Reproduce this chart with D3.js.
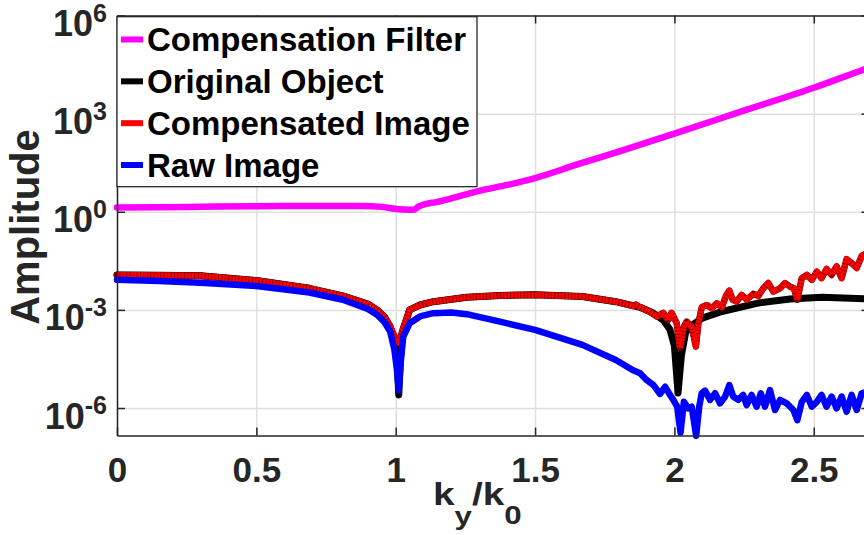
<!DOCTYPE html>
<html>
<head>
<meta charset="utf-8">
<script src="https://cdn.jsdelivr.net/npm/d3@7"></script>
<style>
  html, body { margin: 0; padding: 0; background: #fff; overflow: hidden; }
  svg { display: block; font-family: "Liberation Sans", Arial, Helvetica, sans-serif; font-weight: bold; }
</style>
</head>
<body>
<svg id="chart" width="864" height="535"></svg>
<script>
// Normalised spatial frequency k_y / k_0
const xTicks = [0, 0.5, 1, 1.5, 2, 2.5];
const xTickLabels = ["0", "0.5", "1", "1.5", "2", "2.5"];
const yTicks = [1e-6, 1e-3, 1e0, 1e3, 1e6];
const yTickExponents = ["-6", "-3", "0", "3", "6"];

const seriesNames = ["Compensation Filter", "Original Object", "Compensated Image", "Raw Image"];
const seriesColors = ["#ff00ff", "#000000", "#ff0000", "#0000ff"];

// Compensation filter
const filterK = [0, 0.25, 0.5, 0.75, 0.88, 0.95, 0.99, 1.03, 1.065, 1.08, 1.10, 1.15, 1.2, 1.3, 1.4, 1.5, 1.66, 1.8, 2.0, 2.26, 2.5, 2.68, 2.7];
const filterAmp = [1.35, 1.41, 1.48, 1.51, 1.51, 1.41, 1.26, 1.17, 1.15, 1.41, 1.66, 2.0, 2.57, 4.37, 6.61, 10.7, 29.5, 69, 245, 1318, 6166, 22400, 25700];

// Original object spectrum
const objectK = [0, 0.15, 0.3, 0.5, 0.69, 0.81, 0.9, 0.933, 0.96, 0.98, 0.995, 1.005, 1.011, 1.017, 1.027, 1.05, 1.087, 1.135, 1.255, 1.374, 1.5, 1.67, 1.79, 1.877, 1.92, 1.96, 1.984, 2.0, 2.013, 2.025, 2.04, 2.056, 2.10, 2.17, 2.30, 2.415, 2.53, 2.68, 2.7];
const objectAmp = [1.17e-2, 1.15e-2, 1.10e-2, 7.94e-3, 4.57e-3, 2.69e-3, 1.51e-3, 1.0e-3, 6.03e-4, 3.09e-4, 1.0e-4, 3.16e-5, 2.51e-6, 3.16e-5, 2.51e-4, 1.0e-3, 1.41e-3, 1.78e-3, 2.45e-3, 2.75e-3, 2.88e-3, 2.57e-3, 1.78e-3, 1.20e-3, 8.32e-4, 4.90e-4, 2.51e-4, 7.94e-5, 2.88e-6, 3.98e-5, 2.0e-4, 3.09e-4, 5.62e-4, 8.91e-4, 1.62e-3, 2.14e-3, 2.45e-3, 2.19e-3, 2.14e-3];

// Compensated image spectrum
const compK = [0, 0.15, 0.3, 0.5, 0.69, 0.81, 0.9, 0.933, 0.96, 0.98, 0.995, 1.011, 1.027, 1.05, 1.087, 1.135, 1.255, 1.374, 1.5, 1.67, 1.79, 1.85, 1.862,
  1.877, 1.91, 1.937, 1.96, 1.977, 1.99, 2.008, 2.02, 2.034, 2.044, 2.062, 2.077, 2.086, 2.098, 2.116, 2.134, 2.152, 2.17, 2.185, 2.197, 2.209, 2.223,
  2.241, 2.259, 2.283, 2.301, 2.319, 2.337, 2.355, 2.379, 2.397, 2.415, 2.429, 2.441, 2.457, 2.475, 2.493, 2.511, 2.528, 2.546, 2.564, 2.582, 2.600,
  2.618, 2.636, 2.654, 2.672, 2.69, 2.7];
const compAmp = [1.17e-2, 1.15e-2, 1.10e-2, 7.94e-3, 4.57e-3, 2.69e-3, 1.51e-3, 1.0e-3, 6.03e-4, 3.09e-4, 1.58e-4, 1.0e-4, 2.82e-4, 1.0e-3, 1.41e-3, 1.78e-3, 2.45e-3, 2.75e-3, 2.88e-3, 2.57e-3, 1.78e-3, 1.32e-3, 1.45e-3,
  1.20e-3, 8.91e-4, 6.31e-4, 8.13e-4, 4.90e-4, 8.13e-4, 3.98e-4, 6.92e-5, 3.09e-4, 4.37e-4, 3.09e-4, 7.59e-5, 3.89e-4, 1.20e-3, 1.41e-3, 1.12e-3, 1.58e-3, 1.20e-3, 2.69e-3, 3.89e-3, 2.04e-3, 1.78e-3,
  2.88e-3, 2.04e-3, 3.09e-3, 2.69e-3, 4.57e-3, 6.61e-3, 3.63e-3, 4.57e-3, 6.61e-3, 5.13e-3, 4.57e-3, 2.04e-3, 9.33e-3, 1.17e-2, 8.32e-3, 1.48e-2, 9.33e-3, 1.78e-2, 1.17e-2, 2.14e-2, 9.33e-3,
  3.55e-2, 2.69e-2, 1.91e-2, 4.47e-2, 5.37e-2, 5.75e-2];

// Raw image spectrum
const rawK = [0, 0.15, 0.3, 0.5, 0.69, 0.81, 0.9, 0.933, 0.96, 0.98, 0.995, 1.004, 1.011, 1.018, 1.027, 1.05, 1.087, 1.135, 1.2, 1.255, 1.374, 1.5, 1.67, 1.79, 1.85,
  1.877, 1.90, 1.925, 1.948, 1.967, 1.984, 1.996, 2.010, 2.022, 2.034, 2.05, 2.062, 2.078, 2.089, 2.098, 2.110, 2.128, 2.146, 2.164, 2.182, 2.197, 2.211,
  2.229, 2.247, 2.259, 2.277, 2.295, 2.31, 2.325, 2.343, 2.361, 2.379, 2.403, 2.427, 2.441, 2.457, 2.475, 2.493, 2.511, 2.528, 2.546, 2.564, 2.582,
  2.600, 2.618, 2.636, 2.654, 2.672, 2.69, 2.7];
const rawAmp = [8.32e-3, 7.59e-3, 6.76e-3, 5.37e-3, 3.39e-3, 2.04e-3, 1.07e-3, 7.08e-4, 4.17e-4, 2.19e-4, 6.31e-5, 1.58e-5, 3.55e-6, 2.51e-5, 1.51e-4, 3.89e-4, 6.31e-4, 7.94e-4, 8.32e-4, 7.41e-4, 4.37e-4, 2.45e-4, 8.51e-5, 2.95e-5, 1.45e-5,
  1.15e-5, 7.24e-6, 5.01e-6, 2.69e-6, 4.47e-6, 2.51e-6, 1.78e-6, 1.10e-6, 1.78e-7, 1.55e-6, 9.77e-7, 1.10e-6, 1.41e-7, 1.10e-6, 2.82e-6, 3.39e-6, 1.78e-6, 2.82e-6, 1.38e-6, 2.24e-6, 5.01e-6, 2.24e-6,
  1.78e-6, 2.51e-6, 1.23e-6, 2.51e-6, 1.10e-6, 2.82e-6, 1.10e-6, 3.55e-6, 8.71e-7, 1.78e-6, 1.38e-6, 8.71e-7, 4.27e-7, 1.55e-6, 2.51e-6, 1.10e-6, 1.55e-6, 2.51e-6, 1.10e-6, 2.24e-6, 9.77e-7,
  2.24e-6, 7.76e-7, 2.51e-6, 8.71e-7, 2.82e-6, 3.16e-6, 3.39e-6];

const svg = d3.select("#chart");
svg.append("rect").attr("width", 864).attr("height", 535).attr("fill", "#fff");

const plotLeft = 117, plotRight = 869.5, plotTop = 15.5, plotBottom = 435.5;
const x = d3.scaleLinear().domain([0, 2.7]).range([plotLeft, plotRight]);
const y = d3.scaleLog().domain([Math.pow(10, -6.84), 1e6]).range([plotBottom, plotTop]);

const axisColor = "#262626";
const gridColor = "#dfdfdf";

// grid
const grid = svg.append("g");
grid.append("g").attr("transform", `translate(0,${plotBottom})`)
  .call(d3.axisBottom(x).tickValues(xTicks).tickSize(-(plotBottom - plotTop)).tickSizeOuter(0).tickFormat(""))
  .call(g => g.select(".domain").remove())
  .call(g => g.selectAll("line").attr("stroke", gridColor).attr("stroke-width", 1.5));
grid.append("g").attr("transform", `translate(${plotLeft},0)`)
  .call(d3.axisLeft(y).tickValues(yTicks).tickSize(-(plotRight - plotLeft)).tickSizeOuter(0).tickFormat(""))
  .call(g => g.select(".domain").remove())
  .call(g => g.selectAll("line").attr("stroke", gridColor).attr("stroke-width", 1.5));

// curves: the filter is smooth, the spectra keep their sampled jaggedness
const smoothLine = d3.line().x(d => x(d[0])).y(d => y(d[1])).curve(d3.curveMonotoneX);
const line = d3.line().x(d => x(d[0])).y(d => y(d[1]));
const zipSeries = (ks, as) => ks.map((k, i) => [k, as[i]]);
const curves = svg.append("g").attr("fill", "none").attr("stroke-linejoin", "round").attr("stroke-linecap", "round");

curves.append("path").attr("d", smoothLine(zipSeries(filterK, filterAmp)))
  .attr("stroke", seriesColors[0]).attr("stroke-width", 6.5);
curves.append("path").attr("d", line(zipSeries(objectK, objectAmp)))
  .attr("stroke", seriesColors[1]).attr("stroke-width", 7);
const compData = zipSeries(compK, compAmp);
curves.append("path").attr("d", line(compData))
  .attr("stroke", "#7a0000").attr("stroke-width", 6.5);
curves.append("path").attr("d", line(compData))
  .attr("stroke", seriesColors[2]).attr("stroke-width", 6)
  .attr("stroke-linecap", "butt").attr("stroke-dasharray", "2.6 0.8");
curves.append("path").attr("d", line(zipSeries(rawK, rawAmp)))
  .attr("stroke", seriesColors[3]).attr("stroke-width", 6.5);

// axes box
const axes = svg.append("g");
const styleAxis = g => {
  g.select(".domain").attr("stroke", axisColor).attr("stroke-width", 1.5);
  g.selectAll(".tick line").attr("stroke", axisColor).attr("stroke-width", 1.5);
};
axes.append("g").attr("transform", `translate(0,${plotBottom})`)
  .call(d3.axisBottom(x).tickValues(xTicks).tickSizeInner(-8).tickSizeOuter(0).tickPadding(21.5)
    .tickFormat((d, i) => xTickLabels[i]))
  .call(styleAxis)
  .call(g => g.selectAll("text").attr("fill", axisColor).attr("font-size", 35)
    .attr("font-family", "'Liberation Sans', Arial, sans-serif").attr("font-weight", "bold"));
axes.append("g").attr("transform", `translate(0,${plotTop})`)
  .call(d3.axisTop(x).tickValues(xTicks).tickSizeInner(-8).tickSizeOuter(0).tickFormat(""))
  .call(styleAxis);
axes.append("g").attr("transform", `translate(${plotRight},0)`)
  .call(d3.axisRight(y).tickValues(yTicks).tickSizeInner(-8).tickSizeOuter(0).tickFormat(""))
  .call(styleAxis);
const yAxis = axes.append("g").attr("transform", `translate(${plotLeft},0)`)
  .call(d3.axisLeft(y).tickValues(yTicks).tickSizeInner(-8).tickSizeOuter(0).tickFormat(""))
  .call(styleAxis);

// y tick labels as 10 with a superscript exponent
yAxis.selectAll(".tick").each(function (d, i) {
  const t = d3.select(this).append("text")
    .attr("x", -10).attr("y", 20)
    .attr("text-anchor", "end").attr("fill", axisColor)
    .attr("font-size", 36).attr("font-weight", "bold");
  t.append("tspan").text("10");
  t.append("tspan").attr("font-size", 25).attr("dy", -14.5).text(yTickExponents[i]);
});

// axis titles
svg.append("text")
  .attr("transform", "translate(39,227) rotate(-90)")
  .attr("text-anchor", "middle").attr("font-size", 40).attr("fill", axisColor)
  .text("Amplitude");

const xt = svg.append("text")
  .attr("transform", "translate(433,505) scale(1.25,1)")
  .attr("font-size", 31).attr("fill", axisColor);
xt.append("tspan").text("k");
xt.append("tspan").attr("font-size", 25).attr("dy", 20).text("y");
xt.append("tspan").attr("dy", -20).text("/k");
xt.append("tspan").attr("font-size", 25).attr("dy", 19).text("0");

// legend
const legend = svg.append("g");
legend.append("rect").attr("x", 117).attr("y", 16.7).attr("width", 360).attr("height", 170)
  .attr("fill", "#fff").attr("stroke", axisColor).attr("stroke-width", 1.3);
const rowY = d3.scalePoint().domain(seriesNames).range([39.5, 165]);
seriesNames.forEach((name, i) => {
  const cy = rowY(name);
  legend.append("line").attr("x1", 121).attr("x2", 143).attr("y1", cy).attr("y2", cy)
    .attr("stroke", seriesColors[i]).attr("stroke-width", 6);
  legend.append("text").attr("x", 147).attr("y", cy + 11.8)
    .attr("font-size", 33).attr("fill", "#000").text(name);
});
</script>
</body>
</html>
